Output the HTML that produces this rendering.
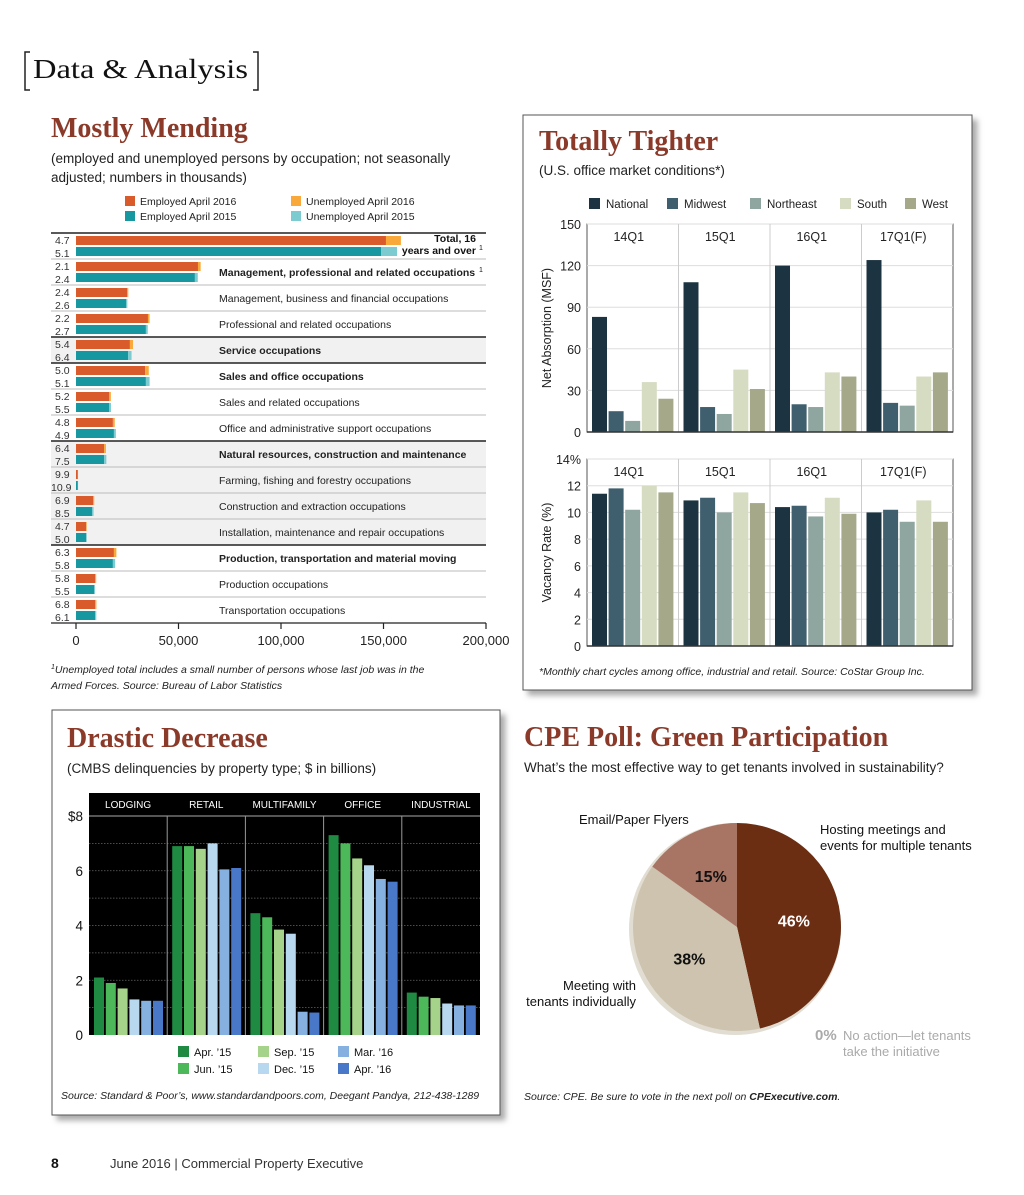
<!DOCTYPE html>
<html><head><meta charset="utf-8"><style>
html,body{margin:0;padding:0;background:#fff;width:1024px;height:1195px;overflow:hidden}
svg text{font-family:"Liberation Sans",Arial,sans-serif}
.serif{font-family:"Liberation Serif",serif !important}
</style></head><body>
<svg id="pg" width="1024" height="1195" viewBox="0 0 1024 1195" xmlns="http://www.w3.org/2000/svg">
<defs><filter id="sh" x="-5%" y="-5%" width="115%" height="115%"><feDropShadow dx="5" dy="5" stdDeviation="3" flood-color="#888" flood-opacity="0.7"/></filter></defs>
<g>
<path d="M30,52 H25 V90 H30 M253,52 H258 V90 H253" fill="none" stroke="#222" stroke-width="1.5"/>
<text x="33" y="78" font-size="27" class="serif" fill="#111" textLength="215" lengthAdjust="spacingAndGlyphs">Data &amp; Analysis</text>
</g>
<g>
<text x="51" y="137" font-size="28" font-weight="bold" class="serif" fill="#8b3a2a">Mostly Mending</text>
<text x="51" y="163" font-size="13.5" fill="#222">(employed and unemployed persons by occupation; not seasonally</text>
<text x="51" y="182" font-size="13.5" fill="#222">adjusted; numbers in thousands)</text>
<g id="mend"></g>
<text x="51" y="673" font-size="10.5" font-style="italic" fill="#222"><tspan font-size="7" dy="-4">1</tspan><tspan dy="4">Unemployed total includes a small number of persons whose last job was in the</tspan></text>
<text x="51" y="689" font-size="10.5" font-style="italic" fill="#222">Armed Forces. Source: Bureau of Labor Statistics</text>
</g>
<g>
<rect x="523" y="115" width="449" height="575" fill="#fff" stroke="#555" stroke-width="1" filter="url(#sh)"/>
<text x="539" y="150" font-size="28" font-weight="bold" class="serif" fill="#8b3a2a">Totally Tighter</text>
<text x="539" y="175" font-size="13.5" fill="#222">(U.S. office market conditions*)</text>
<g id="tight"></g>
<text x="539" y="675" font-size="10.5" font-style="italic" fill="#222">*Monthly chart cycles among office, industrial and retail. Source: CoStar Group Inc.</text>
</g>
<g>
<rect x="52" y="710" width="448" height="405" fill="#fff" stroke="#555" stroke-width="1" filter="url(#sh)"/>
<text x="67" y="747" font-size="28" font-weight="bold" class="serif" fill="#8b3a2a">Drastic Decrease</text>
<text x="67" y="773" font-size="13.5" fill="#222">(CMBS delinquencies by property type; $ in billions)</text>
<g id="cmbs"></g>
<text x="61" y="1099" font-size="10.5" font-style="italic" fill="#222">Source: Standard &amp; Poor’s, www.standardandpoors.com, Deegant Pandya, 212-438-1289</text>
</g>
<g>
<text x="524" y="746" font-size="28" font-weight="bold" class="serif" fill="#8b3a2a">CPE Poll: Green Participation</text>
<text x="524" y="772" font-size="13.5" fill="#222">What’s the most effective way to get tenants involved in sustainability?</text>
<g id="pie"></g>
<text x="524" y="1100" font-size="10.5" font-style="italic" fill="#222">Source: CPE. Be sure to vote in the next poll on <tspan font-weight="bold">CPExecutive.com</tspan>.</text>
</g>
<g>
<text x="51" y="1168" font-size="14" font-weight="bold" fill="#111">8</text>
<text x="110" y="1168" font-size="13" fill="#333">June 2016  |  Commercial Property Executive</text>
</g>
</svg>
<script>
// ---- Mostly Mending data ----
const occLabels=["Total, 16 years and over","Management, professional and related occupations","Management, business and financial occupations","Professional and related occupations","Service occupations","Sales and office occupations","Sales and related occupations","Office and administrative support occupations","Natural resources, construction and maintenance","Farming, fishing and forestry occupations","Construction and extraction occupations","Installation, maintenance and repair occupations","Production, transportation and material moving","Production occupations","Transportation occupations"];
const occBold=[1,1,0,0,1,1,0,0,1,0,0,0,1,0,0];
const emp2016=[151200,59500,24900,35100,26300,33700,16100,18000,13700,900,8300,5000,18500,9300,9300];
const unemp2016=[7300,1300,600,800,1500,1800,900,900,900,100,600,250,1200,550,650];
const emp2015=[148800,58000,24400,34100,25400,34100,16100,18500,13700,900,7800,5000,18000,8800,9300];
const unemp2015=[7800,1400,650,900,1700,1800,950,950,1100,110,750,260,1100,500,600];
const rate2016=["4.7","2.1","2.4","2.2","5.4","5.0","5.2","4.8","6.4","9.9","6.9","4.7","6.3","5.8","6.8"];
const rate2015=["5.1","2.4","2.6","2.7","6.4","5.1","5.5","4.9","7.5","10.9","8.5","5.0","5.8","5.5","6.1"];
const mendTicks=[0,50000,100000,150000,200000];
// ---- Totally Tighter data ----
const quarters=["14Q1","15Q1","16Q1","17Q1(F)"];
const regions=["National","Midwest","Northeast","South","West"];
const absNational=[83,108,120,124];
const absMidwest=[15,18,20,21];
const absNortheast=[8,13,18,19];
const absSouth=[36,45,43,40];
const absWest=[24,31,40,43];
const vacNational=[11.4,10.9,10.4,10.0];
const vacMidwest=[11.8,11.1,10.5,10.2];
const vacNortheast=[10.2,10.0,9.7,9.3];
const vacSouth=[12.0,11.5,11.1,10.9];
const vacWest=[11.5,10.7,9.9,9.3];
const absTicks=[0,30,60,90,120,150];
const vacTicks=[0,2,4,6,8,10,12,14];
// ---- CMBS data ----
const propTypes=["LODGING","RETAIL","MULTIFAMILY","OFFICE","INDUSTRIAL"];
const periods=["Apr. ’15","Jun. ’15","Sep. ’15","Dec. ’15","Mar. ’16","Apr. ’16"];
const cmbsApr15=[2.1,6.9,4.45,7.3,1.55];
const cmbsJun15=[1.9,6.9,4.3,7.0,1.4];
const cmbsSep15=[1.7,6.8,3.85,6.45,1.35];
const cmbsDec15=[1.3,7.0,3.7,6.2,1.15];
const cmbsMar16=[1.25,6.05,0.85,5.7,1.08];
const cmbsApr16=[1.25,6.1,0.82,5.6,1.08];
const cmbsTicks=[0,2,4,6,8];
// ---- Poll data ----
const pollLabels=["Hosting meetings and events for multiple tenants","Meeting with tenants individually","Email/Paper Flyers","No action—let tenants take the initiative"];
const pollValues=[46,38,15,0];

const NS="http://www.w3.org/2000/svg";
function mk(parent,tag,attrs,text){const e=document.createElementNS(NS,tag);for(const k in attrs)e.setAttribute(k,attrs[k]);if(text!==undefined)e.textContent=text;parent.appendChild(e);return e;}

// ===== Mostly Mending =====
(function(){
const g=document.getElementById('mend');
const x0=76,x1=486,top=233,rowH=26;
const xs=v=>x0+(v/200000)*(x1-x0);
const colors=["#d95a2b","#f9a93a","#17979f","#7ccbd0"];
const legItems=[["Employed April 2016",125,197,colors[0]],["Employed April 2015",125,212,colors[2]],["Unemployed April 2016",291,197,colors[1]],["Unemployed April 2015",291,212,colors[3]]];
legItems.forEach(l=>{
 const it=mk(g,'g',{});
 
 
 mk(it,'rect',{x:l[1],y:l[2]-1,width:10,height:10,fill:l[3]});
 mk(it,'text',{x:l[1]+15,y:l[2]+8,'font-size':10.5,fill:'#222'},l[0]);
});
[[4,1],[8,4]].forEach(s=>{mk(g,'rect',{x:51,y:top+s[0]*rowH,width:435,height:s[1]*rowH,fill:'#f1f1f1'});});
for(let i=0;i<occLabels.length;i++){
 const y=top+i*rowH;
 const thick=[0,4,5,8,12].includes(i);
 mk(g,'line',{x1:51,x2:486,y1:y,y2:y,stroke:thick?'#222':'#bbb','stroke-width':thick?1.5:1});
 const row=mk(g,'g',{});
 
 
 const b1=mk(row,'rect',{x:x0,y:y+3,width:xs(emp2016[i])-x0,height:9,fill:colors[0]});
 
 
 const b2=mk(row,'rect',{x:xs(emp2016[i]),y:y+3,width:xs(unemp2016[i])-x0,height:9,fill:colors[1]});
 
 
 const b3=mk(row,'rect',{x:x0,y:y+14,width:xs(emp2015[i])-x0,height:9,fill:colors[2]});
 
 
 const b4=mk(row,'rect',{x:xs(emp2015[i]),y:y+14,width:xs(unemp2015[i])-x0,height:9,fill:colors[3]});
 
 
 mk(row,'text',{x:55,y:y+11,'font-size':10.5,fill:'#333'},rate2016[i]);
 mk(row,'text',{x:i===9?51:55,y:y+24,'font-size':10.5,fill:'#333'},rate2015[i]);
 if(i===0){
  mk(row,'text',{x:476,y:y+9,'font-size':10.5,'font-weight':'bold','text-anchor':'end',fill:'#111'},"Total, 16");
  mk(row,'text',{x:476,y:y+21,'font-size':10.5,'font-weight':'bold','text-anchor':'end',fill:'#111'},"years and over");
  mk(row,'text',{x:479,y:y+17,'font-size':7,fill:'#111'},"1");
 } else {
  mk(row,'text',{x:219,y:y+17,'font-size':10.5,'font-weight':occBold[i]?'bold':'normal',fill:'#222'},occLabels[i]);
  if(i===1) mk(row,'text',{x:479,y:y+13,'font-size':7,fill:'#111'},"1");
 }
}
const yb=top+occLabels.length*rowH;
mk(g,'line',{x1:51,x2:486,y1:yb,y2:yb,stroke:'#222','stroke-width':1.2});
mendTicks.forEach(t=>{
 const x=xs(t);
 mk(g,'line',{x1:x,x2:x,y1:yb,y2:yb+6,stroke:'#222','stroke-width':1.2});
 const tl=mk(g,'text',{x:x,y:yb+22,'font-size':13,'text-anchor':'middle',fill:'#222'},t.toLocaleString('en-US'));
 
 
});
})();

// ===== Totally Tighter =====
(function(){
const g=document.getElementById('tight');
const cols=["#1c3441","#3f5f6e","#8fa59f","#d6dcc2","#a5a98a"];
const legX=[589,667,750,840,905];
regions.forEach((r,i)=>{
 const it=mk(g,'g',{});
 
 
 mk(it,'rect',{x:legX[i],y:198,width:11,height:11,fill:cols[i]});
 mk(it,'text',{x:legX[i]+17,y:208,'font-size':11.5,fill:'#222'},r);
});
const px0=587,px1=953,gw=(px1-px0)/4;
function panel(series,maxV,ticks,yTop,yBot,label,fmt){
 const ys=v=>yBot-(v/maxV)*(yBot-yTop);
 mk(g,'rect',{x:px0,y:yTop,width:px1-px0,height:yBot-yTop,fill:'#fff',stroke:'#555','stroke-width':1});
 ticks.forEach(t=>{
  const y=ys(t);
  mk(g,'line',{x1:px0,x2:px1,y1:y,y2:y,stroke:'#ddd','stroke-width':1});
  const tl=mk(g,'text',{x:581,y:y+5,'font-size':12.5,'text-anchor':'end',fill:'#222'},fmt(t));
  
  
 });
 for(let q=1;q<4;q++) mk(g,'line',{x1:px0+q*gw,x2:px0+q*gw,y1:yTop,y2:yBot,stroke:'#ccc','stroke-width':1});
 quarters.forEach((q,qi)=>{
  mk(g,'text',{x:px0+qi*gw+gw/2-4,y:yTop+17,'font-size':12.5,'text-anchor':'middle',fill:'#222'},q);
  series.forEach((s,si)=>{
   const x=px0+qi*gw+5+si*16.6;
   const b=mk(g,'rect',{x:x,y:ys(s[qi]),width:15,height:yBot-ys(s[qi]),fill:cols[si]});
   
   
  });
 });
 mk(g,'line',{x1:px0,x2:px1,y1:yBot,y2:yBot,stroke:'#333','stroke-width':1.5});
 const yl=mk(g,'text',{x:0,y:0,'font-size':12.5,'text-anchor':'middle',fill:'#222',transform:`translate(551,${(yTop+yBot)/2}) rotate(-90)`},label);
 
 
}
panel([absNational,absMidwest,absNortheast,absSouth,absWest],150,absTicks,224,432,"Net Absorption (MSF)",t=>String(t));
panel([vacNational,vacMidwest,vacNortheast,vacSouth,vacWest],14,vacTicks,459,646,"Vacancy Rate (%)",t=>t===14?"14%":String(t));
})();

// ===== CMBS =====
(function(){
const g=document.getElementById('cmbs');
const cols=["#1e8a42","#4cb85a","#a6d38a","#b8d8f0","#85b0e0","#4a78c8"];
const series=[cmbsApr15,cmbsJun15,cmbsSep15,cmbsDec15,cmbsMar16,cmbsApr16];
const cx0=89,cx1=480,yTop=816,yBot=1035,cw=(cx1-cx0)/5;
const ys=v=>yBot-(v/8)*(yBot-yTop);
mk(g,'rect',{x:cx0,y:793,width:cx1-cx0,height:yBot-793,fill:'#000'});
mk(g,'line',{x1:cx0,x2:cx1,y1:yTop,y2:yTop,stroke:'#aaa','stroke-width':1});
for(let v=1;v<8;v++) mk(g,'line',{x1:cx0,x2:cx1,y1:ys(v),y2:ys(v),stroke:'#666','stroke-width':0.8,'stroke-dasharray':'1.5,1.5'});
cmbsTicks.forEach(t=>{
 const tl=mk(g,'text',{x:83,y:ys(t)+5,'font-size':13.5,'text-anchor':'end',fill:'#111'},t===8?"$8":String(t));
 
 
});
propTypes.forEach((p,pi)=>{
 const gx=cx0+pi*cw;
 if(pi>0) mk(g,'line',{x1:gx,x2:gx,y1:yTop,y2:yBot,stroke:'#999','stroke-width':1});
 mk(g,'text',{x:gx+cw/2,y:808,'font-size':10,'text-anchor':'middle',fill:'#fff'},p);
 series.forEach((s,si)=>{
  const b=mk(g,'rect',{x:gx+5+si*11.8,y:ys(s[pi]),width:10,height:yBot-ys(s[pi]),fill:cols[si]});
  
  
 });
});
const lp=[[178,1047],[178,1064],[258,1047],[258,1064],[338,1047],[338,1064]];
periods.forEach((p,i)=>{
 const it=mk(g,'g',{});
 
 
 mk(it,'rect',{x:lp[i][0],y:lp[i][1]-1,width:11,height:11,fill:cols[i]});
 mk(it,'text',{x:lp[i][0]+16,y:lp[i][1]+9,'font-size':11,fill:'#111'},p);
});
})();

// ===== Pie =====
(function(){
const g=document.getElementById('pie');
const cx=737,cy=927,r=104;
const cols=["#6b2e12","#cdc3ae","#a87565","#999"];
mk(g,'circle',{cx:cx-2,cy:cy+2,r:r+2,fill:'#e2ddd2'});
let a=0;
const tot=pollValues.reduce((s,v)=>s+v,0);
pollValues.forEach((v,i)=>{
 if(v<=0) return;
 const a2=a+v/tot*2*Math.PI;
 const p=t=>[cx+r*Math.sin(t),cy-r*Math.cos(t)];
 const s=p(a),e=p(a2);
 const sl=mk(g,'path',{d:`M${cx},${cy} L${s[0]},${s[1]} A${r},${r} 0 ${a2-a>Math.PI?1:0} 1 ${e[0]},${e[1]} Z`,fill:cols[i]});
 
 
 const m=(a+a2)/2,lr=r*0.55;
 mk(g,'text',{x:cx+lr*Math.sin(m),y:cy-lr*Math.cos(m)+6,'font-size':16,'font-weight':'bold','text-anchor':'middle',fill:i===0?'#fff':'#111'},v+"%");
 a=a2;
});
const lab=(x,y,t,fill,anchor)=>mk(g,'text',{x:x,y:y,'font-size':13,fill:fill||'#111','text-anchor':anchor||'start'},t);
lab(579,824,"Email/Paper Flyers");
lab(820,834,"Hosting meetings and");
lab(820,850,"events for multiple tenants");
lab(636,990,"Meeting with",'#111','end');
lab(636,1006,"tenants individually",'#111','end');
mk(g,'text',{x:815,y:1040,'font-size':15,'font-weight':'bold',fill:'#aaa'},pollValues[3]+"%");
lab(843,1040,"No action—let tenants",'#aaa');
lab(843,1056,"take the initiative",'#aaa');
})();
</script>
</body></html>
